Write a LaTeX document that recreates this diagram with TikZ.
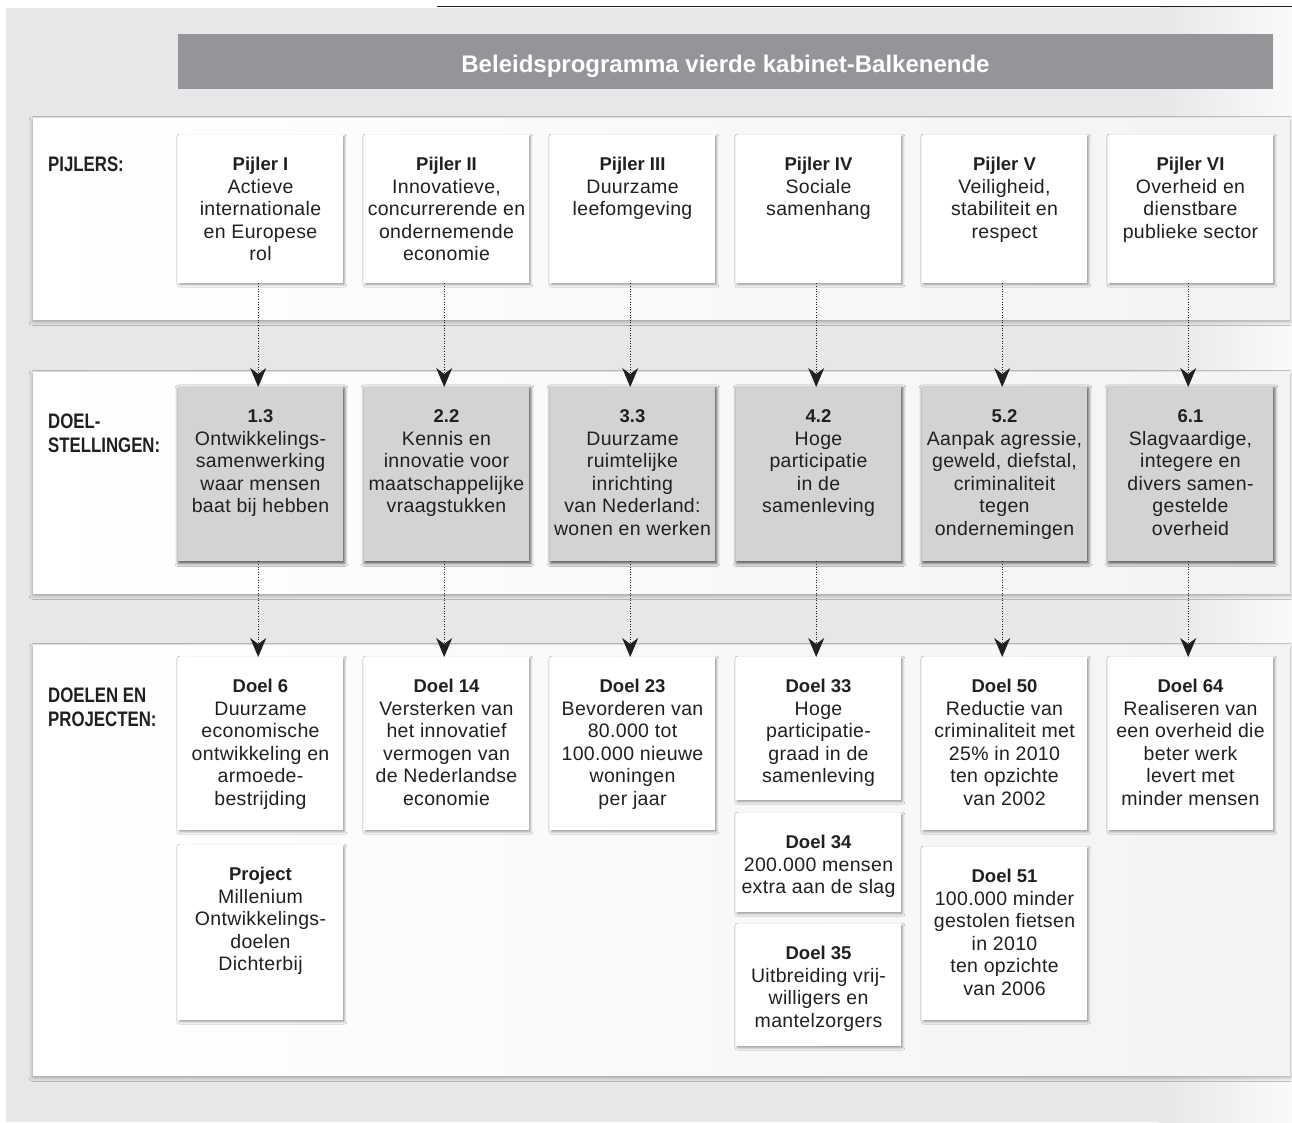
\documentclass[tikz,border=0pt]{standalone}
\usepackage{fontspec}
\usepackage{graphicx}
\setmainfont{Liberation Sans}
\newfontfamily\bodyfont[LetterSpace=1.7]{Liberation Sans}
\newfontfamily\hdfont{Liberation Sans}
\usetikzlibrary{arrows.meta,shadows.blur}
\definecolor{bggray}{HTML}{E6E7E8}
\definecolor{titlegray}{HTML}{939598}
\definecolor{boxgray}{HTML}{D1D3D4}
\definecolor{ink}{HTML}{231F20}
\newcommand\hd[1]{{\hdfont\bfseries\fontsize{18.5}{22.5}\selectfont #1}}
\newcommand\lbl[1]{\scalebox{0.8}[1]{\hdfont\bfseries\fontsize{21}{24}\selectfont #1}}
\tikzset{
  band/.style={left color=white, right color={rgb,255:red,243;green,243;blue,244}, draw=none,
    blur shadow={shadow xshift=0pt, shadow yshift=-2.5pt, shadow blur radius=4pt, shadow opacity=35}},
  wbox/.style={fill=white, draw=none, inner sep=0pt, minimum width=165pt,
    blur shadow={shadow xshift=1.2pt, shadow yshift=-1.5pt, shadow blur radius=2.5pt, shadow opacity=40}},
  gbox/.style={fill=boxgray, draw=none, inner sep=0pt, minimum width=165pt,
    blur shadow={shadow xshift=0.8pt, shadow yshift=-1.5pt, shadow blur radius=3pt, shadow opacity=65, shadow scale=1.01}},
  txt/.style={inner sep=0pt, align=center, text=ink, font=\bodyfont\fontsize{19.5}{22.5}\selectfont},
  lab/.style={inner sep=0pt, text=ink, anchor=base west},
  arr/.style={draw=ink, line width=0.9pt, dash pattern=on 1pt off 1.6pt,
    -{Stealth[length=19pt,width=16pt,inset=6pt]}},
}
% name, left, top, bottom, style, text
\newcommand\mybox[6]{%
  \node[#5, minimum height={#4pt-#3pt}, anchor=north west] (#1) at (#2,#3) {};
  \node[txt, anchor=north] (#1t) at (#2+82.5,#3+17.5) {\rule{0pt}{18pt}#6};
}
\begin{document}
\begin{tikzpicture}[x=1pt,y=-1pt]
\useasboundingbox (0,0) rectangle (1292,1122);
% background
\fill[bggray] (6,7.5) rectangle (1160,1122);
\shade[left color=bggray, right color={rgb,255:red,250;green,250;blue,250}] (1159.5,7.5) rectangle (1292,1122);
\draw[ink, line width=1.6pt] (437,6.5) -- (1292,6.5);
% title
\node[fill=titlegray, inner sep=0pt, minimum width=1095pt, minimum height=55pt, anchor=north west] (title) at (178,34) {};
\node[inner sep=0pt, anchor=base, text=white, font=\hdfont\bfseries\fontsize{24}{28}\selectfont] (titlet) at (725.5,72) {Beleidsprogramma vierde kabinet-Balkenende};
% bands
\path[band] (33,118) rectangle (1290,319);
\path[band] (33,372) rectangle (1290,593);
\path[band] (33,645) rectangle (1290,1075);
% labels
\node[lab] (l1) at (48,171) {\lbl{PIJLERS:}};
\node[lab] (l2a) at (48,428) {\lbl{DOEL-}};
\node[lab] (l2b) at (48,452) {\lbl{STELLINGEN:}};
\node[lab] (l3a) at (48,702) {\lbl{DOELEN EN}};
\node[lab] (l3b) at (48,726) {\lbl{PROJECTEN:}};
% row 1
\mybox{p1}{178}{135}{283}{wbox}{\hd{Pijler I}\\Actieve\\internationale\\en Europese\\rol}
\mybox{p2}{364}{135}{283}{wbox}{\hd{Pijler II}\\Innovatieve,\\concurrerende en\\ondernemende\\economie}
\mybox{p3}{550}{135}{283}{wbox}{\hd{Pijler III}\\Duurzame\\leefomgeving}
\mybox{p4}{736}{135}{283}{wbox}{\hd{Pijler IV}\\Sociale\\samenhang}
\mybox{p5}{922}{135}{283}{wbox}{\hd{Pijler V}\\Veiligheid,\\stabiliteit en\\respect}
\mybox{p6}{1108}{135}{283}{wbox}{\hd{Pijler VI}\\Overheid en\\dienstbare\\publieke sector}
% row 2
\mybox{d1}{178}{387}{561}{gbox}{\hd{1.3}\\Ontwikkelings-\\samenwerking\\waar mensen\\baat bij hebben}
\mybox{d2}{364}{387}{561}{gbox}{\hd{2.2}\\Kennis en\\innovatie voor\\maatschappelijke\\vraagstukken}
\mybox{d3}{550}{387}{561}{gbox}{\hd{3.3}\\Duurzame\\ruimtelijke\\inrichting\\van Nederland:\\wonen en werken}
\mybox{d4}{736}{387}{561}{gbox}{\hd{4.2}\\Hoge\\participatie\\in de\\samenleving}
\mybox{d5}{922}{387}{561}{gbox}{\hd{5.2}\\Aanpak agressie,\\geweld, diefstal,\\criminaliteit\\tegen\\ondernemingen}
\mybox{d6}{1108}{387}{561}{gbox}{\hd{6.1}\\Slagvaardige,\\integere en\\divers samen-\\gestelde\\overheid}
% row 3
\mybox{g6}{178}{657}{830}{wbox}{\hd{Doel 6}\\Duurzame\\economische\\ontwikkeling en\\armoede-\\bestrijding}
\mybox{pr}{178}{845}{1020}{wbox}{\hd{Project}\\Millenium\\Ontwikkelings-\\doelen\\Dichterbij}
\mybox{g14}{364}{657}{830}{wbox}{\hd{Doel 14}\\Versterken van\\het innovatief\\vermogen van\\de Nederlandse\\economie}
\mybox{g23}{550}{657}{830}{wbox}{\hd{Doel 23}\\Bevorderen van\\80.000 tot\\100.000 nieuwe\\woningen\\per jaar}
\mybox{g33}{736}{657}{800}{wbox}{\hd{Doel 33}\\Hoge\\participatie-\\graad in de\\samenleving}
\mybox{g34}{736}{813}{912}{wbox}{\hd{Doel 34}\\200.000 mensen\\extra aan de slag}
\mybox{g35}{736}{924}{1046}{wbox}{\hd{Doel 35}\\Uitbreiding vrij-\\willigers en\\mantelzorgers}
\mybox{g50}{922}{657}{830}{wbox}{\hd{Doel 50}\\Reductie van\\criminaliteit met\\25\% in 2010\\ten opzichte\\van 2002}
\mybox{g51}{922}{847}{1020}{wbox}{\hd{Doel 51}\\100.000 minder\\gestolen fietsen\\in 2010\\ten opzichte\\van 2006}
\mybox{g64}{1108}{657}{830}{wbox}{\hd{Doel 64}\\Realiseren van\\een overheid die\\beter werk\\levert met\\minder mensen}
% arrows
\foreach \a/\b in {p1/d1,p2/d2,p3/d3,p4/d4,p5/d5,p6/d6,d1/g6,d2/g14,d3/g23,d4/g33,d5/g50,d6/g64}{
  \draw[arr] ([xshift=-2.5pt]\a.south) -- ([xshift=-2.5pt]\b.north);
}
\end{tikzpicture}
\end{document}
